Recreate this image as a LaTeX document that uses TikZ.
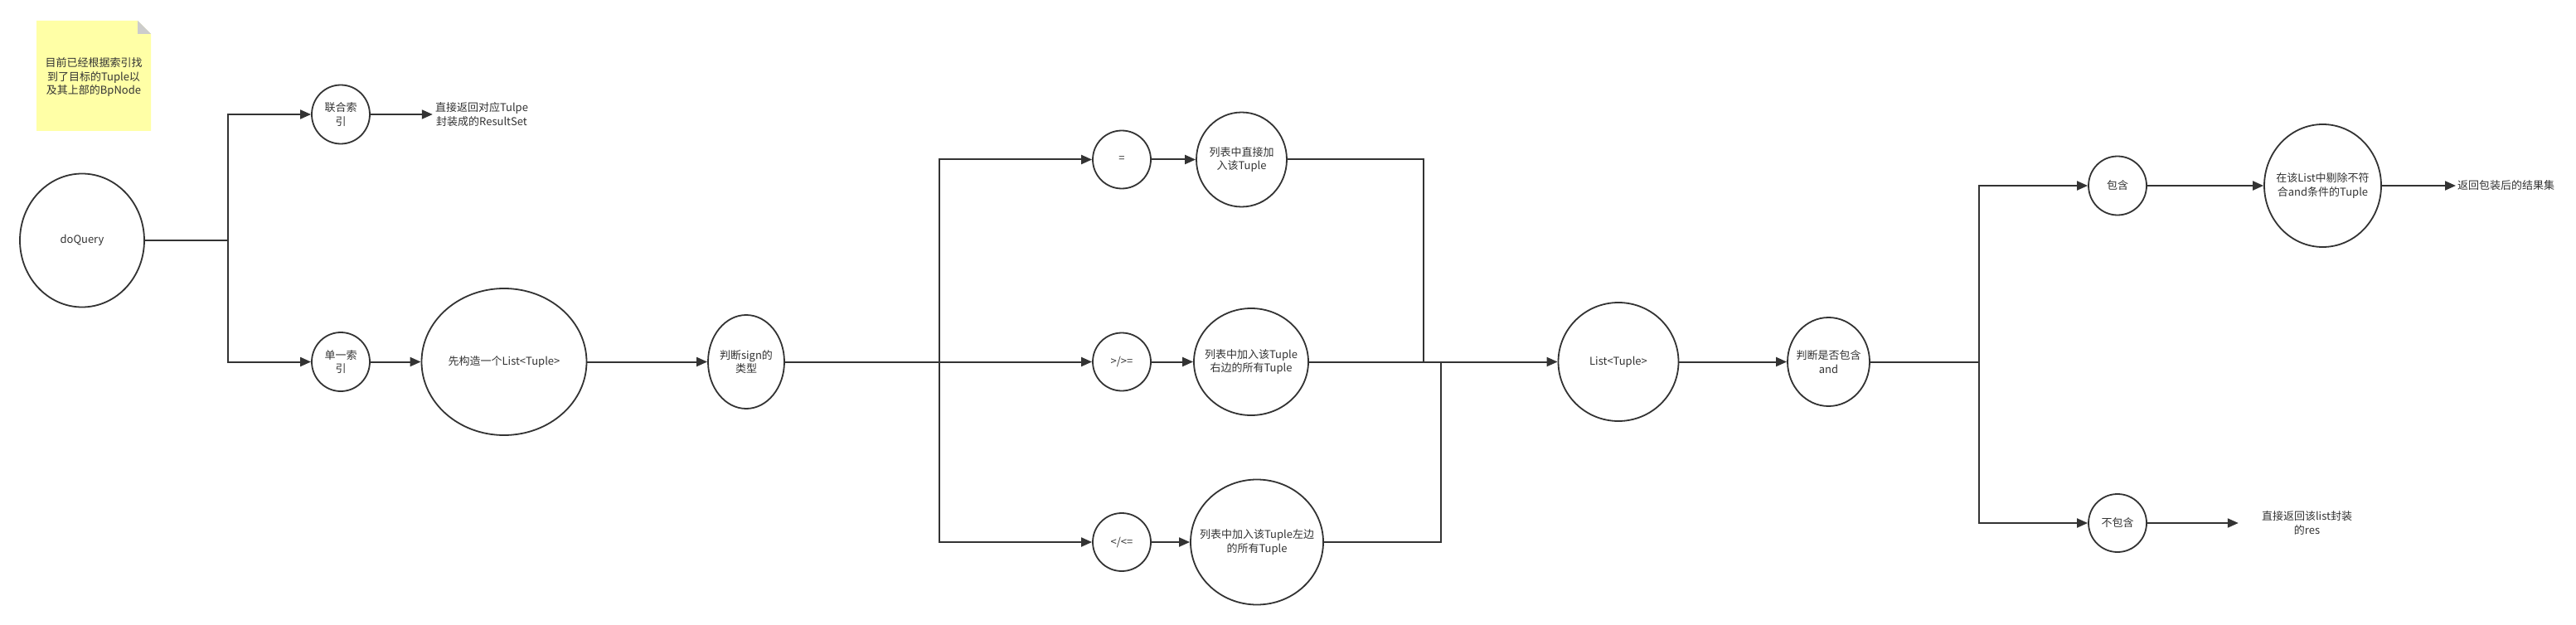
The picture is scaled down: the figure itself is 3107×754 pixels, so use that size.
\documentclass[tikz,border=0pt]{standalone}
\usepackage{fontspec}
\newfontfamily\cjk{Noto Sans CJK SC}
\usetikzlibrary{shapes.geometric,arrows.meta}
\definecolor{linec}{HTML}{333333}
\definecolor{txtc}{HTML}{333333}
\definecolor{notec}{HTML}{FFFFA6}
\definecolor{foldc}{HTML}{CCCCCC}

\begin{document}
\begin{tikzpicture}[
  x=1pt, y=-1pt,
  bub/.style={ellipse, draw=linec, line width=1.8pt, inner sep=-20pt, align=center,
    text=txtc, font=\cjk\fontsize{13}{16.5}\selectfont},
  txt/.style={inner sep=0pt, align=center, text=txtc, font=\cjk\fontsize{13}{16.5}\selectfont},
  link/.style={draw=linec, line width=2pt},
  arrow/.style={link, -{Triangle[length=13pt,width=11pt]}}
]
\useasboundingbox[fill=white] (0,0) rectangle (3107,754);

% Note
\fill[notec] (44,25) -- (166,25) -- (182,41) -- (182,158) -- (44,158) -- cycle;
\fill[foldc] (166,25) -- (182,41) -- (166,41) -- cycle;
\node[txt] (note) at (113,93) {目前已经根据索引找\\到了目标的Tuple以\\及其上部的BpNode};

% Nodes
\node[bub, minimum width=150, minimum height=161] (doquery) at (99,290) {doQuery};
\node[bub, minimum width=70, minimum height=71] (lianhe) at (411,138) {联合索\\引};
\node[bub, minimum width=70, minimum height=71] (danyi) at (411,436.5) {单一索\\引};
\node[txt, minimum width=118] (ret1) at (581,138) {直接返回对应Tulpe\\封装成的ResultSet};
\node[bub, minimum width=199, minimum height=177] (newlist) at (608,436.5) {先构造一个List<Tuple>};
\node[bub, minimum width=92, minimum height=113] (sign) at (900,436.5) {判断sign的\\类型};

\node[bub, minimum width=70, minimum height=70] (eq) at (1353,192.5) {=};
\node[bub, minimum width=70, minimum height=70] (gt) at (1353,436.5) {>/>=};
\node[bub, minimum width=70, minimum height=70] (lt) at (1353,654) {</<=};
\node[bub, minimum width=109, minimum height=114] (addeq) at (1497.5,192.5) {列表中直接加\\入该Tuple};
\node[bub, minimum width=138, minimum height=129] (addright) at (1509,436.5) {列表中加入该Tuple\\右边的所有Tuple};
\node[bub, minimum width=160, minimum height=151] (addleft) at (1516,654) {列表中加入该Tuple左边\\的所有Tuple};

\node[bub, minimum width=145, minimum height=143] (list) at (1952,436.5) {List<Tuple>};
\node[bub, minimum width=99, minimum height=107] (hasand) at (2205.5,436.5) {判断是否包含\\and};
\node[bub, minimum width=70, minimum height=71] (yes) at (2554,224) {包含};
\node[bub, minimum width=141, minimum height=148] (remove) at (2801.5,224) {在该List中剔除不符\\合and条件的Tuple};
\node[txt, anchor=west, inner xsep=2pt] (ret2) at (2962,224) {返回包装后的结果集};
\node[bub, minimum width=70, minimum height=70] (no) at (2554,631) {不包含};
\node[txt, minimum width=165] (ret3) at (2782.5,631) {直接返回该list封装\\的res};

% Branch points
\coordinate (j1) at (274.5,290);
\coordinate (j2) at (1132.7,436.5);
\coordinate (m1) at (1716.7,436.5);
\coordinate (m2) at (1738,436.5);
\coordinate (j3) at (2387,436.5);

% Connections
\draw[link] (doquery) -- (j1);
\draw[arrow] (j1) |- (lianhe);
\draw[arrow] (j1) |- (danyi);
\draw[arrow] (lianhe) -- (ret1);
\draw[arrow] (danyi) -- (newlist);
\draw[arrow] (newlist) -- (sign);

\draw[link] (sign) -- (j2);
\draw[arrow] (j2) |- (eq);
\draw[arrow] (j2) -- (gt);
\draw[arrow] (j2) |- (lt);
\draw[arrow] (eq) -- (addeq);
\draw[arrow] (gt) -- (addright);
\draw[arrow] (lt) -- (addleft);

\draw[link] (addeq) -| (m1);
\draw[link] (addleft) -| (m2);
\draw[arrow] (addright) -- (list);
\draw[arrow] (list) -- (hasand);

\draw[link] (hasand) -- (j3);
\draw[arrow] (j3) |- (yes);
\draw[arrow] (j3) |- (no);
\draw[arrow] (yes) -- (remove);
\draw[arrow] (remove) -- (ret2);
\draw[arrow] (no) -- (ret3);

\end{tikzpicture}
\end{document}
